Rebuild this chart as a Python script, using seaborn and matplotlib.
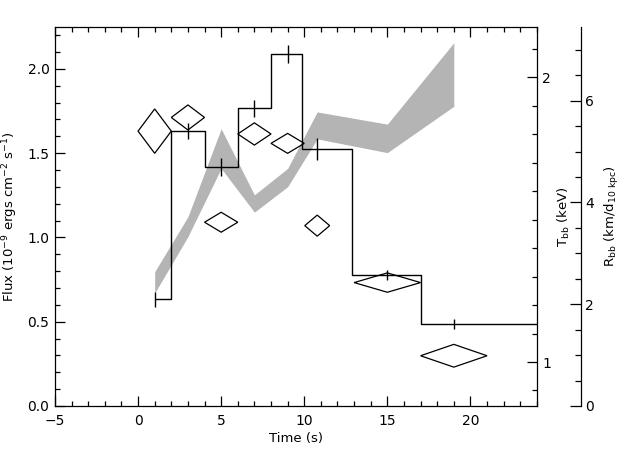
import numpy as np
import pandas as pd
import matplotlib
matplotlib.use("Agg")
import matplotlib.pyplot as plt
from matplotlib.ticker import MultipleLocator, FormatStrFormatter
import seaborn as sns

# flux light curve (histogram mode)
t_flux = [1, 3, 5, 7, 9, 10.75, 15, 19]
flux = [0.633, 1.631, 1.418, 1.766, 2.088, 1.524, 0.777, 0.485]
flux_err = [0.045, 0.047, 0.052, 0.052, 0.054, 0.064, 0.028, 0.030]

# blackbody temperature (diamonds: time bin half width, T error)
t_spec = [1, 3, 5, 7, 9, 10.78, 15, 19]
dt_spec = [1, 1, 1, 1, 1, 0.75, 2, 2]
T_bb = [1.811, 1.859, 1.491, 1.801, 1.768, 1.479, 1.279, 1.022]
T_err = [0.078, 0.044, 0.035, 0.039, 0.035, 0.037, 0.034, 0.040]

# blackbody radius band
R_low = [2.22, 3.33, 4.67, 3.81, 4.31, 5.25, 4.98, 5.89]
R_high = [2.64, 3.72, 5.45, 4.15, 4.67, 5.78, 5.54, 7.14]

XLIM = (-5, 24)

sns.set_style("ticks")
plt.rcParams["font.family"] = ["DejaVu Sans"]
plt.rcParams["mathtext.default"] = "regular"
plt.rcParams["font.size"] = 10
plt.rcParams["text.color"] = "black"
plt.rcParams["axes.labelcolor"] = "black"

fig = plt.figure(figsize=(6.4, 4.57), dpi=100)
ax = fig.add_axes([0.0859, 0.1116, 0.753, 0.8293])
axT = ax.twinx()
axR = ax.twinx()

# stacking: band at the bottom, histogram on top
axR.set_zorder(1)
axT.set_zorder(2)
ax.set_zorder(3)
ax.patch.set_visible(False)
axT.patch.set_visible(False)

# grey radius band
axR.fill_between(t_spec, R_low, R_high, color="#b4b4b4", lw=0)

# temperature diamonds
for t, dt, T, dT in zip(t_spec, dt_spec, T_bb, T_err):
    axT.fill([t - dt, t, t + dt, t], [T, T + dT, T, T - dT],
             facecolor="none", edgecolor="black", lw=0.9)

# flux histogram: edges at midpoints, last bin runs to the axis edge
edges = [t_flux[0]] + [(a + b) / 2 for a, b in zip(t_flux[:-1], t_flux[1:])] + [XLIM[1]]
df_step = pd.DataFrame({"t": edges, "flux": flux + [flux[-1]]})
sns.lineplot(data=df_step, x="t", y="flux", drawstyle="steps-post",
             color="black", lw=1.0, estimator=None, ax=ax)
ax.errorbar(t_flux, flux, yerr=flux_err, fmt="none", ecolor="black",
            elinewidth=1.0, capsize=0)

# main axes
ax.set_xlim(*XLIM)
ax.set_ylim(0, 2.248)
ax.xaxis.set_major_locator(MultipleLocator(5))
ax.xaxis.set_minor_locator(MultipleLocator(1))
ax.yaxis.set_major_locator(MultipleLocator(0.5))
ax.yaxis.set_minor_locator(MultipleLocator(0.1))
ax.yaxis.set_major_formatter(FormatStrFormatter("%.1f"))
ax.tick_params(which="both", direction="in", top=True, right=False,
               width=0.9, colors="black", labelsize=10)
ax.tick_params(which="major", length=7)
ax.tick_params(which="minor", length=3.5)
ax.tick_params(axis="x", pad=6)
ax.tick_params(axis="y", pad=4)
ax.set_xlabel("Time (s)", fontsize=9.5)
ax.set_ylabel("Flux (10$^{-9}$ ergs cm$^{-2}$ s$^{-1}$)", fontsize=9.5)
ax.xaxis.set_label_coords(0.5, -0.068)
ax.yaxis.set_label_coords(-0.072, 0.5)
for s in ax.spines.values():
    s.set_linewidth(0.9)
    s.set_color("black")

# temperature axis on the right edge of the box
axT.set_ylim(0.8455, 2.1767)
axT.yaxis.set_major_locator(MultipleLocator(1))
axT.yaxis.set_minor_locator(MultipleLocator(0.1))
axT.yaxis.set_major_formatter(FormatStrFormatter("%d"))
axT.tick_params(which="both", direction="in", width=0.9, colors="black",
                labelsize=10, pad=4)
axT.tick_params(which="major", length=7)
axT.tick_params(which="minor", length=3.5)
axT.set_ylabel("T$_{bb}$ (keV)", fontsize=9.5)
axT.yaxis.set_label_coords(1.039, 0.5)
for s in axT.spines.values():
    s.set_visible(False)

# radius axis, detached spine further right
axR.set_ylim(0, 7.449)
axR.spines["right"].set_position(("axes", 1.0913))
for name in ["left", "top", "bottom"]:
    axR.spines[name].set_visible(False)
axR.spines["right"].set_linewidth(0.9)
axR.spines["right"].set_color("black")
axR.yaxis.set_major_locator(MultipleLocator(2))
axR.yaxis.set_minor_locator(MultipleLocator(0.5))
axR.tick_params(which="both", direction="in", width=0.9, colors="black",
                labelsize=10, pad=3)
axR.tick_params(which="major", length=8)
axR.tick_params(which="minor", length=4)
axR.set_ylabel("R$_{bb}$ (km/d$_{10\\ kpc}$)", fontsize=9.5)
axR.yaxis.set_label_coords(1.137, 0.5)

fig.savefig("out.png", dpi=100)
